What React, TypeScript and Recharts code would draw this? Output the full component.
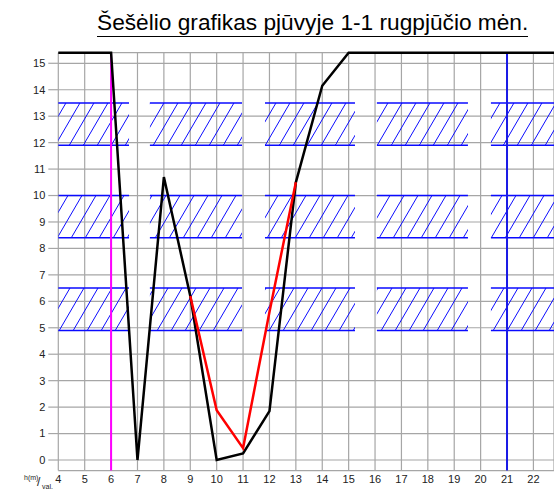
import React from 'react';
import { LineChart, Line, XAxis, YAxis, CartesianGrid, ReferenceArea, ReferenceLine } from 'recharts';

const xs = [4, 6, 7, 8, 9, 10, 11, 12, 13, 14, 15, 22.78];
const blackH = [15.4, 15.4, 0, 10.7, 6.2, 0, 0.25, 1.85, 10.5, 14.15, 15.4, 15.4];
const redH: (number | null)[] = [null, null, null, null, 6.2, 1.88, 0.45, 5.6, 10.5, null, null, null];
const xTicks = [4, 5, 6, 7, 8, 9, 10, 11, 12, 13, 14, 15, 16, 17, 18, 19, 20, 21, 22];
const yTicks = [0, 1, 2, 3, 4, 5, 6, 7, 8, 9, 10, 11, 12, 13, 14, 15];
const bandRanges = [
  [11.9, 13.5],
  [8.4, 10.0],
  [4.9, 6.5],
];
const bandSegments = [
  [4, 6.68],
  [7.47, 10.96],
  [11.83, 15.24],
  [16.07, 19.52],
  [20.39, 22.78],
];
const magentaX = 6;
const blueX = 21;
const title = 'Šešėlio grafikas pjūvyje 1-1 rugpjūčio mėn.';

const data = xs.map((x, i) => ({ x, black: blackH[i], red: redH[i] }));

const FONT = 'Arial, "Liberation Sans", sans-serif';
const HATCH = '#0a0aff';

export default function App() {
  return (
    <div style={{ position: 'absolute', left: 0, top: 0, width: 554, height: 493, background: '#fff', overflow: 'hidden', fontFamily: FONT }}>
      <div style={{ position: 'absolute', left: 97, top: 9, fontSize: 22.7, whiteSpace: 'nowrap', color: '#000', lineHeight: '26px' }}>
        {title}
      </div>
      <div style={{ position: 'absolute', left: 97, top: 35.5, width: 431, height: 1.5, background: '#000' }} />
      <LineChart width={554} height={493} data={data} margin={{ top: 52.7, right: 0, left: 0, bottom: 0 }}>
        <defs>
          <pattern id="hatch" patternUnits="userSpaceOnUse" x="0" y="0" width="28" height="48">
            <path
              d="M-2,51.43 L30,-3.43 M12,51.43 L44,-3.43 M-16,51.43 L16,-3.43 M-30,51.43 L2,-3.43"
              stroke={HATCH}
              strokeWidth="1"
              fill="none"
            />
          </pattern>
        </defs>
        <CartesianGrid stroke="#a6a6a6" strokeWidth={1.2} />
        <XAxis
          dataKey="x"
          type="number"
          domain={[4, 22.78]}
          ticks={xTicks}
          interval={0}
          axisLine={false}
          tickLine={false}
          tickSize={0}
          tickMargin={5}
          height={22.4}
          tick={{ fontSize: 11, fill: '#222', fontFamily: FONT }}
        />
        <YAxis
          type="number"
          domain={[-0.4, 15.4]}
          ticks={yTicks}
          interval={0}
          axisLine={false}
          tickLine={{ stroke: '#a6a6a6', strokeWidth: 1.2 }}
          tickSize={10}
          tickMargin={3}
          width={58.3}
          tick={{ fontSize: 11, fill: '#222', fontFamily: FONT }}
        />
        {bandRanges.map(([y1, y2], bi) =>
          bandSegments.map(([x1, x2], si) => (
            <ReferenceArea
              key={`a${bi}-${si}`}
              x1={x1}
              x2={x2}
              y1={y1}
              y2={y2}
              fill="url(#hatch)"
              fillOpacity={1}
              stroke="none"
              ifOverflow="visible"
            />
          ))
        )}
        {bandRanges.map(([y1, y2], bi) =>
          bandSegments.map(([x1, x2], si) => (
            <ReferenceLine
              key={`t${bi}-${si}`}
              segment={[{ x: x1, y: y2 }, { x: x2, y: y2 }]}
              stroke={HATCH}
              strokeWidth={1.5}
              ifOverflow="visible"
            />
          ))
        )}
        {bandRanges.map(([y1, y2], bi) =>
          bandSegments.map(([x1, x2], si) => (
            <ReferenceLine
              key={`b${bi}-${si}`}
              segment={[{ x: x1, y: y1 }, { x: x2, y: y1 }]}
              stroke={HATCH}
              strokeWidth={1.5}
              ifOverflow="visible"
            />
          ))
        )}
        <ReferenceLine x={magentaX} stroke="#ff00ff" strokeWidth={2} />
        <ReferenceLine x={blueX} stroke="#1a1ae6" strokeWidth={2} />
        <Line dataKey="black" stroke="#000" strokeWidth={2.5} dot={false} isAnimationActive={false} connectNulls={false} />
        <Line dataKey="red" stroke="#ff0000" strokeWidth={2.5} dot={false} isAnimationActive={false} connectNulls={false} />
      </LineChart>
      <div style={{ position: 'absolute', left: 24, top: 474, fontSize: 7, color: '#222', whiteSpace: 'nowrap', lineHeight: '8px' }}>
        h(m)
      </div>
      <div style={{ position: 'absolute', left: 37, top: 476, fontSize: 12, color: '#222', lineHeight: '12px' }}>/</div>
      <div style={{ position: 'absolute', left: 42, top: 483, fontSize: 7, color: '#222', whiteSpace: 'nowrap', lineHeight: '8px' }}>
        val.
      </div>
    </div>
  );
}
